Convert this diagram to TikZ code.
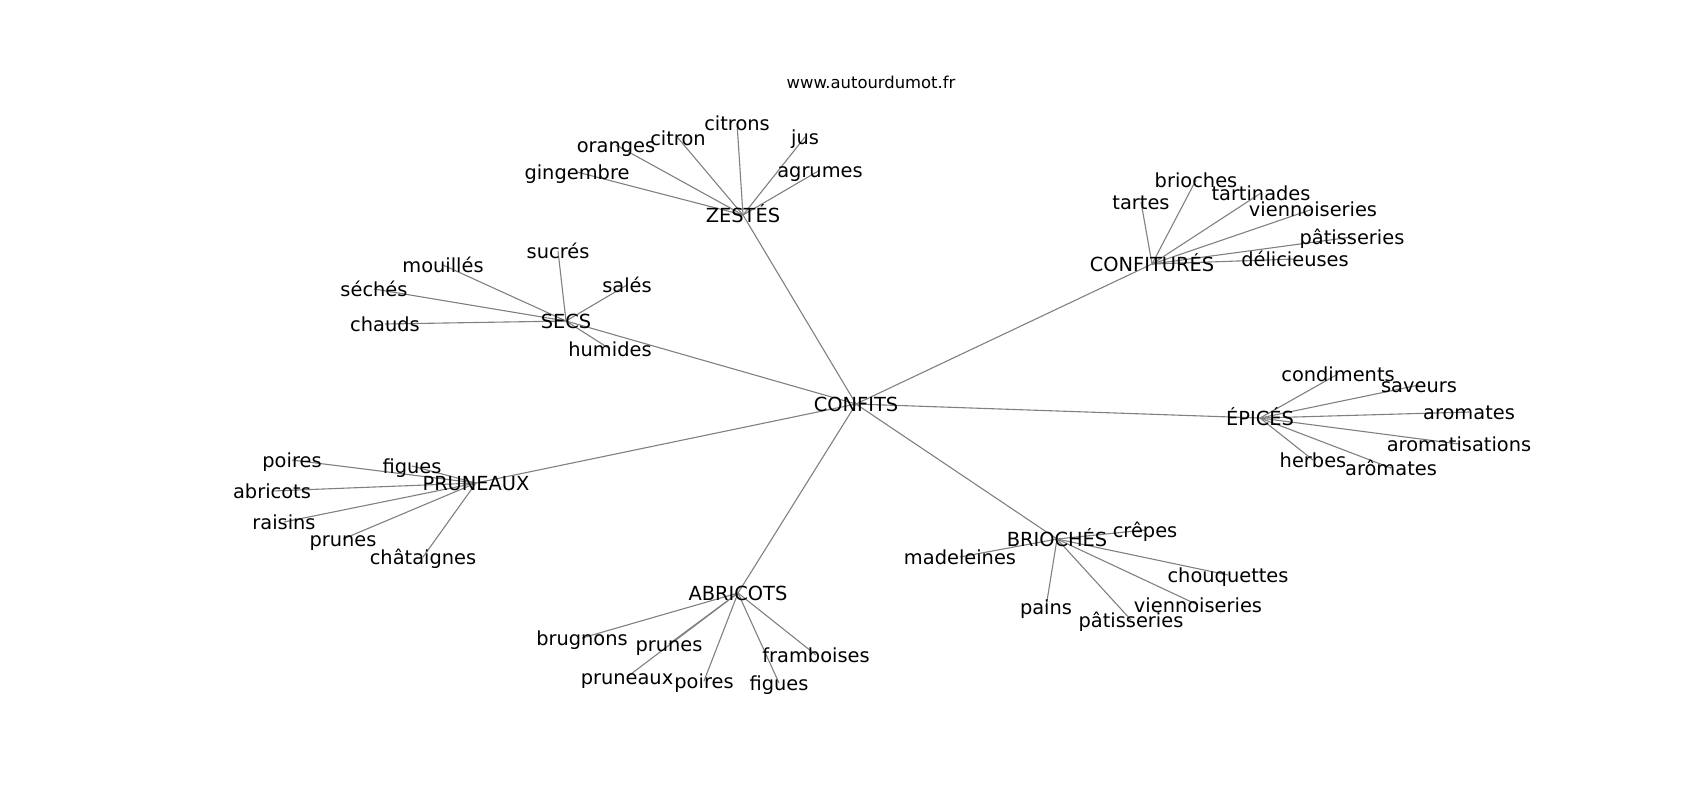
\documentclass[tikz,border=0pt]{standalone}
\usepackage{fontspec}
\setmainfont{DejaVu Sans}
\usetikzlibrary{backgrounds}
\begin{document}
\begin{tikzpicture}[x=0.5pt,y=-0.5pt,
  lbl/.style={inner sep=0pt,font=\fontsize{9.7pt}{11pt}\selectfont,text=black,text height=0.76em,text depth=0pt},
  leaf/.style={lbl},
  ttl/.style={inner sep=0pt,font=\fontsize{8.2pt}{10pt}\selectfont,text=black},
  edge/.style={draw=black!50,line width=0.55pt}]
\useasboundingbox (0,0) rectangle (1700,800);
\node[ttl] (title) at (871,82) {www.autourdumot.fr};
% hubs
\node[lbl] (confits) at (856,404) {CONFITS};
\node[lbl] (zestes) at (743,215) {ZESTÉS};
\node[lbl] (confitures) at (1152,264) {CONFITURÉS};
\node[lbl] (epices) at (1260,418) {ÉPICÉS};
\node[lbl] (brioches) at (1057,539) {BRIOCHÉS};
\node[lbl] (abricots) at (738,593) {ABRICOTS};
\node[lbl] (pruneaux) at (476,483) {PRUNEAUX};
\node[lbl] (secs) at (566,321) {SECS};
% zestes leaves
\node[leaf] (z1) at (737,123) {citrons};
\node[leaf] (z2) at (678,138) {citron};
\node[leaf] (z3) at (616,145) {oranges};
\node[leaf] (z4) at (577,172) {gingembre};
\node[leaf] (z5) at (805,137) {jus};
\node[leaf] (z6) at (820,170) {agrumes};
% secs leaves
\node[leaf] (s1) at (558,251) {sucrés};
\node[leaf] (s2) at (627,285) {salés};
\node[leaf] (s3) at (443,265) {mouillés};
\node[leaf] (s4) at (374,289) {séchés};
\node[leaf] (s5) at (385,324) {chauds};
\node[leaf] (s6) at (610,349) {humides};
% confitures leaves
\node[leaf] (c1) at (1196,180) {brioches};
\node[leaf] (c2) at (1141,202) {tartes};
\node[leaf] (c3) at (1261,193) {tartinades};
\node[leaf] (c4) at (1313,209) {viennoiseries};
\node[leaf] (c5) at (1352,237) {pâtisseries};
\node[leaf] (c6) at (1295,259) {délicieuses};
% epices leaves
\node[leaf] (e1) at (1338,374) {condiments};
\node[leaf] (e2) at (1419,385) {saveurs};
\node[leaf] (e3) at (1469,412) {aromates};
\node[leaf] (e4) at (1459,444) {aromatisations};
\node[leaf] (e5) at (1313,460) {herbes};
\node[leaf] (e6) at (1391,468) {arômates};
% brioches leaves
\node[leaf] (b1) at (1145,530) {crêpes};
\node[leaf] (b2) at (960,557) {madeleines};
\node[leaf] (b3) at (1228,575) {chouquettes};
\node[leaf] (b4) at (1046,607) {pains};
\node[leaf] (b5) at (1198,605) {viennoiseries};
\node[leaf] (b6) at (1131,620) {pâtisseries};
% abricots leaves
\node[leaf] (a1) at (582,638) {brugnons};
\node[leaf] (a2) at (669,644) {prunes};
\node[leaf] (a3) at (627,677) {pruneaux};
\node[leaf] (a4) at (704,681) {poires};
\node[leaf] (a5) at (779,683) {figues};
\node[leaf] (a6) at (816,655) {framboises};
% pruneaux leaves
\node[leaf] (p1) at (292,460) {poires};
\node[leaf] (p2) at (412,466) {figues};
\node[leaf] (p3) at (272,491) {abricots};
\node[leaf] (p4) at (284,522) {raisins};
\node[leaf] (p5) at (343,539) {prunes};
\node[leaf] (p6) at (423,557) {châtaignes};
\begin{pgfonlayer}{background}
\foreach \h in {zestes,confitures,epices,brioches,abricots,pruneaux,secs}
  \draw[edge] (confits.center) -- (\h.center);
\foreach \l in {z1,z2,z3,z4,z5,z6}
  \draw[edge] (zestes.center) -- (\l.center);
\foreach \l in {s1,s2,s3,s4,s5,s6}
  \draw[edge] (secs.center) -- (\l.center);
\foreach \l in {c1,c2,c3,c4,c5,c6}
  \draw[edge] (confitures.center) -- (\l.center);
\foreach \l in {e1,e2,e3,e4,e5,e6}
  \draw[edge] (epices.center) -- (\l.center);
\foreach \l in {b1,b2,b3,b4,b5,b6}
  \draw[edge] (brioches.center) -- (\l.center);
\foreach \l in {a1,a2,a3,a4,a5,a6}
  \draw[edge] (abricots.center) -- (\l.center);
\foreach \l in {p1,p2,p3,p4,p5,p6}
  \draw[edge] (pruneaux.center) -- (\l.center);
\end{pgfonlayer}
\end{tikzpicture}
\end{document}
